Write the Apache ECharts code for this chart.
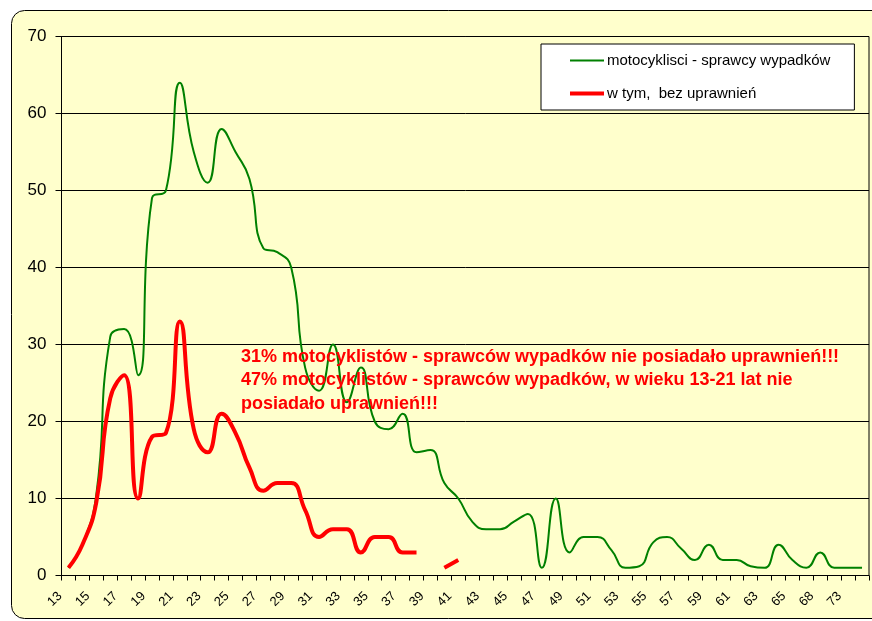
<!DOCTYPE html>
<html>
<head>
<meta charset="utf-8">
<script src="https://cdn.jsdelivr.net/npm/echarts@6/dist/echarts.min.js"></script>
<style>
  html, body { margin: 0; padding: 0; background: #ffffff; }
  #chart { width: 872px; height: 621px; }
</style>
</head>
<body>
<div id="chart"></div>
<script>
// Age of the rider (category axis); every second one is labelled
const ages = [
  '13','14','15','16','17','18','19','20','21','22','23','24','25','26','27','28','29','30',
  '31','32','33','34','35','36','37','38','39','40','41','42','43','44','45','46','47','48',
  '49','50','51','52','53','54','55','56','57','58','59','60','61','62','63','64','65',
  '67','68','70','73','75'
];

// Motorcyclists who caused an accident, by age
const allRiders = [
  1, 4, 10.5, 31, 32, 26, 49, 50, 64, 55, 51, 58, 55, 51.5, 42.5, 42, 40, 27,
  24, 30, 22.5, 27, 20, 19, 21, 16, 16.3, 12, 10, 7, 6, 6, 7, 8, 1, 10,
  3, 5, 5, 3.3, 1, 1.2, 4.3, 5, 3.5, 2, 4, 2, 2, 1.2, 1, 4, 2,
  1, 3, 1, 1, 1
];

// ...of which riding without a licence
const unlicensed = [
  1, 4, 9.5, 23, 26, 10, 18, 18.5, 33, 19, 16, 21, 18.5, 14, 11, 12, 12, 8.5,
  5, 6, 6, 3, 5, 5, 3, 3, null, 1, 2, null, null, null, null, null, null, null,
  null, null, null, null, null, null, null, null, null, null, null, null, null, null, null, null, null,
  null, null, null, null, null
];

const seriesNames = ['motocyklisci - sprawcy wypadków', 'w tym,  bez uprawnień'];

const noteLines = [
  '31% motocyklistów - sprawców wypadków nie posiadało uprawnień!!!',
  '47% motocyklistów - sprawców wypadków, w wieku 13-21 lat nie',
  'posiadało uprawnień!!!'
];

const FONT = '"Liberation Sans", Arial, sans-serif';

const chart = echarts.init(document.getElementById('chart'), null, { renderer: 'canvas' });

chart.setOption({
  animation: false,
  backgroundColor: '#ffffff',
  textStyle: { fontFamily: FONT, color: '#000' },
  graphic: [
    {
      type: 'rect',
      z: -100,
      silent: true,
      shape: { x: 11.5, y: 10.5, width: 900, height: 608, r: 13 },
      style: { fill: '#FFFFCC', stroke: '#000', lineWidth: 1 }
    },
    {
      type: 'text',
      z: 100,
      left: 241,
      top: 345,
      style: {
        text: noteLines.join('\n'),
        fill: '#FF0000',
        font: 'bold 18px ' + FONT,
        lineHeight: 23.5
      }
    }
  ],
  legend: {
    orient: 'vertical',
    left: 541,
    top: 44,
    backgroundColor: '#ffffff',
    borderColor: '#000',
    borderWidth: 1,
    padding: [9, 24, 9, 29],
    itemWidth: 34,
    itemHeight: 14,
    itemGap: 18,
    textStyle: { fontFamily: FONT, fontSize: 15, color: '#000', padding: [0, 0, 0, -2] },
    data: [
      { name: seriesNames[0], icon: 'path://M0,0H34V2H0Z' },
      { name: seriesNames[1], icon: 'path://M0,0H34V4H0Z' }
    ]
  },
  grid: {
    left: 61.5,
    right: 3,
    top: 36.5,
    bottom: 45.5,
    show: true,
    borderColor: '#000',
    borderWidth: 1,
    backgroundColor: 'transparent'
  },
  xAxis: {
    type: 'category',
    data: ages,
    boundaryGap: true,
    axisLine: { lineStyle: { color: '#000', width: 1 } },
    axisTick: { show: true, interval: 0, length: 5, lineStyle: { color: '#000' } },
    axisLabel: {
      interval: 1,
      rotate: 45,
      margin: 10,
      padding: [0, 12, 0, 0],
      fontSize: 13,
      color: '#000',
      fontFamily: FONT
    },
    splitLine: { show: false }
  },
  yAxis: {
    type: 'value',
    min: 0,
    max: 70,
    interval: 10,
    axisLine: { show: true, lineStyle: { color: '#000', width: 1 } },
    axisTick: { show: true, length: 6, lineStyle: { color: '#000' } },
    axisLabel: { margin: 15, fontSize: 17, color: '#000', fontFamily: FONT },
    splitLine: { show: true, lineStyle: { color: '#000', width: 1 } }
  },
  series: [
    {
      name: seriesNames[0],
      type: 'line',
      data: allRiders,
      smooth: 0.5,
      symbol: 'none',
      lineStyle: { color: '#008000', width: 2 },
      itemStyle: { color: '#008000' },
      z: 2
    },
    {
      name: seriesNames[1],
      type: 'line',
      data: unlicensed,
      smooth: 0.5,
      symbol: 'none',
      connectNulls: false,
      lineStyle: { color: '#FF0000', width: 4 },
      itemStyle: { color: '#FF0000' },
      z: 3
    }
  ]
});
</script>
</body>
</html>
